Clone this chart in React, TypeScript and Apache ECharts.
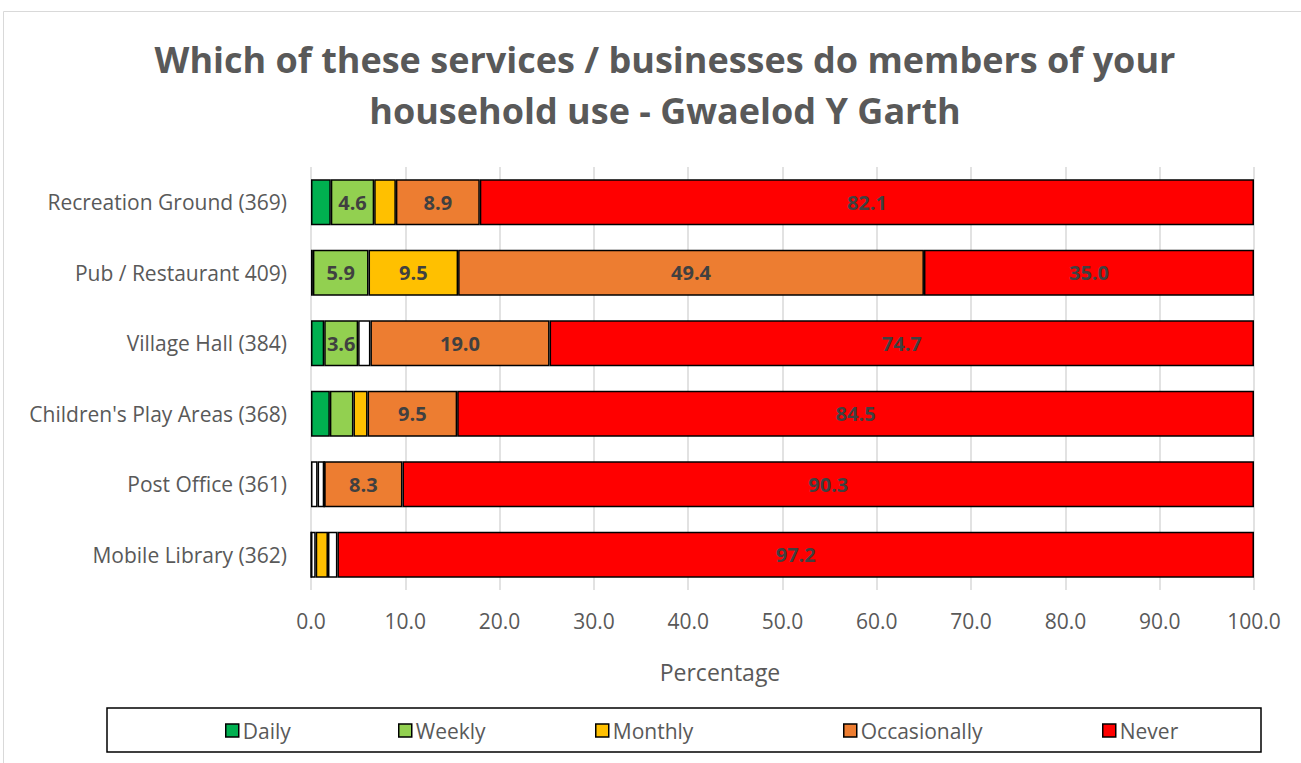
import React, { useEffect, useRef } from "react";
import * as echarts from "echarts";

const categories = [
  "Recreation Ground (369)",
  "Pub / Restaurant 409)",
  "Village Hall (384)",
  "Children's Play Areas (368)",
  "Post Office (361)",
  "Mobile Library (362)",
];
const seriesNames = ["Daily", "Weekly", "Monthly", "Occasionally", "Never"];
const daily = [2.1, 0.2, 1.4, 2.0, 0.7, 0];
const weekly = [4.6, 5.9, 3.6, 2.5, 0.7, 0.5];
const monthly = [2.3, 9.5, 1.3, 1.5, 0, 1.3];
const occasionally = [8.9, 49.4, 19.0, 9.5, 8.3, 1.0];
const never = [82.1, 35.0, 74.7, 84.5, 90.3, 97.2];
const xTicks = [0, 10, 20, 30, 40, 50, 60, 70, 80, 90, 100];

// segments that are drawn white in the original [seriesIndex, categoryIndex]
const whiteSegments: [number, number][] = [
  [2, 2],
  [0, 4],
  [1, 4],
  [1, 5],
  [3, 5],
];

const colors = ["#00B050", "#92D050", "#FFC000", "#ED7D31", "#FF0000"];
const legendLefts = [225, 398, 595, 843, 1102];
const FONT = "Open Sans";

export default function App() {
  const ref = useRef<HTMLDivElement>(null);
  useEffect(() => {
    document.body.style.margin = "0";
    const chart = echarts.init(ref.current!, undefined, { renderer: "svg" });
    const all = [daily, weekly, monthly, occasionally, never];
    const series = all.map((vals, si) => ({
      name: seriesNames[si],
      type: "bar",
      stack: "total",
      barCategoryGap: "35%",
      itemStyle: { color: colors[si], borderColor: "#000", borderWidth: 1.5 },
      label: {
        show: true,
        position: "inside",
        fontFamily: FONT,
        fontWeight: "bold",
        fontSize: 20,
        color: "#404040",
        formatter: (p: any) => (p.value >= 3 ? Number(p.value).toFixed(1) : ""),
      },
      data: vals.map((v, ci) => {
        const white = whiteSegments.some(([s, c]) => s === si && c === ci);
        return white ? { value: v, itemStyle: { color: "#FFFFFF" } } : v;
      }),
    }));
    const legends = seriesNames.map((n, i) => ({
      data: [n],
      left: legendLefts[i],
      top: 720,
      itemWidth: 13,
      itemHeight: 13,
      itemGap: 0,
      padding: 0,
      icon: "rect",
      textStyle: { fontFamily: FONT, fontSize: 21, color: "#595959", padding: [0, 0, 0, -1] },
      itemStyle: { borderColor: "#000", borderWidth: 1.5 },
    }));
    chart.setOption({
      animation: false,
      backgroundColor: "#fff",
      title: {
        text: "Which of these services / businesses do members of your\nhousehold use - Gwaelod Y Garth",
        left: 660,
        textAlign: "center",
        top: 29,
        textStyle: {
          fontFamily: FONT,
          fontWeight: "bold",
          fontSize: 36,
          lineHeight: 51,
          color: "#595959",
        },
      },
      grid: { left: 311, right: 47, top: 167, bottom: 173 },
      xAxis: {
        type: "value",
        min: 0,
        max: 100,
        interval: 10,
        axisLine: { show: false },
        axisTick: { show: false },
        splitLine: { lineStyle: { color: "#D9D9D9", width: 1.5 } },
        axisLabel: {
          fontFamily: FONT,
          fontSize: 21,
          color: "#595959",
          margin: 20,
          formatter: (v: number) => (xTicks.includes(v) ? v.toFixed(1) : ""),
        },
      },
      yAxis: {
        type: "category",
        data: categories,
        inverse: true,
        axisLine: { show: false },
        axisTick: { show: false },
        axisLabel: {
          fontFamily: FONT,
          fontSize: 21,
          color: "#595959",
          margin: 24,
        },
      },
      legend: legends,
      graphic: [
        {
          type: "rect",
          shape: { x: 3.5, y: 11.5, width: 1310, height: 760 },
          style: { fill: "none", stroke: "#D9D9D9", lineWidth: 1 },
          silent: true,
        },
        {
          type: "rect",
          shape: { x: 107, y: 708, width: 1154, height: 44 },
          style: { fill: "none", stroke: "#000", lineWidth: 1.5 },
          silent: true,
        },
        {
          type: "text",
          x: 720,
          y: 672,
          silent: true,
          style: {
            text: "Percentage",
            fontFamily: FONT,
            fontSize: 23,
            fill: "#595959",
            align: "center",
            verticalAlign: "middle",
          },
        },
      ],
      series,
    });
    return () => chart.dispose();
  }, []);
  return <div ref={ref} style={{ width: 1301, height: 763 }} />;
}
